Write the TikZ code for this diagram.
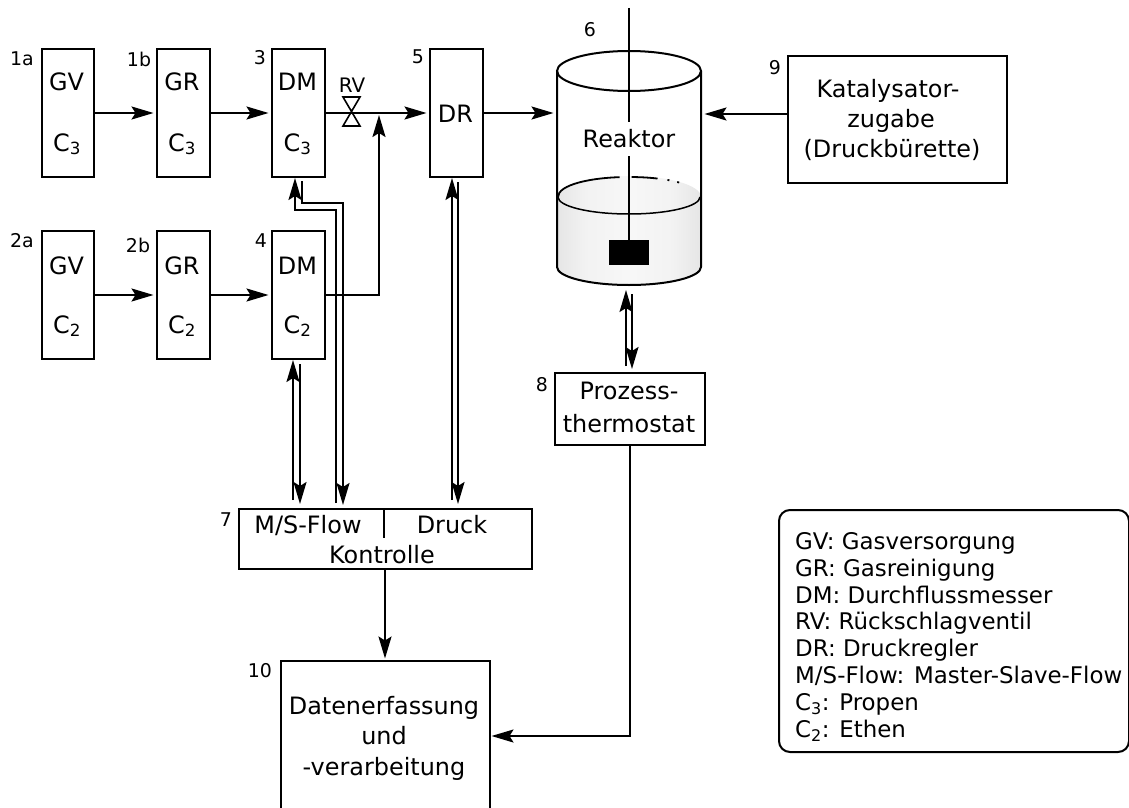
\documentclass[tikz,border=0pt]{standalone}
\usepackage{fontspec}
\setmainfont{DejaVu Sans}
\usetikzlibrary{arrows.meta,calc}
\pgfdeclarehorizontalshading{liquid}{100bp}{color(0bp)=(black!22); color(27bp)=(black!9); color(35bp)=(black!5); color(50bp)=(black!3); color(65bp)=(black!5); color(73bp)=(black!9); color(100bp)=(black!22)}
\tikzset{
 box/.style={draw=black,line width=2bp,inner sep=0pt,anchor=north west},
 lbl/.style={inner sep=0pt,font=\fontsize{24}{28}\selectfont},
 num/.style={inner sep=0pt,font=\fontsize{19}{22}\selectfont},
 line/.style={line width=2bp,draw=black},
 arr/.style={line width=2bp,draw=black,shorten >=2.5bp,-{Stealth[length=22bp,width=13bp,inset=4bp]}},
}
\newcommand{\pbox}[6]{\node[box,minimum width=#4 bp,minimum height=#5 bp] (#1) at (#2,#3) {#6};}
\begin{document}
\begin{tikzpicture}[x=1bp,y=-1bp]
\useasboundingbox (0,0) rectangle (1129,808);
% boxes
\pbox{gva}{41}{48}{52}{128}{}
\pbox{gra}{156}{48}{53}{128}{}
\pbox{dma}{271}{48}{53}{128}{}
\pbox{dr}{429}{48}{53}{128}{}
\pbox{gvb}{41}{230}{52}{128}{}
\pbox{grb}{156}{230}{53}{128}{}
\pbox{dmb}{271}{230}{53}{128}{}
\pbox{kat}{787}{55}{219}{127}{}
\pbox{proz}{554}{372}{150}{72}{}
\pbox{kon}{238}{508}{293}{60}{}
\pbox{dat}{280}{660}{209}{150}{}
\node[draw=black,line width=2bp,rounded corners=11bp,minimum width=350bp,minimum height=242bp,anchor=north west,inner sep=0pt] (leg) at (778,509) {};
% labels in boxes
\foreach \n/\x/\y/\t in {a/66.5/91/GV,b/182/91/GR,c/297.5/91/DM,d/66.5/274/GV,e/182/274/GR,f/297.5/274/DM,g/455.5/122/DR}
  \node[lbl,anchor=base] (t\n) at (\x,\y) {\t};
\foreach \n/\x/\y/\t in {a/67/151/3,b/182/151/3,c/297.5/151/3,d/67/333/2,e/182/333/2,f/297.5/333/2}
  \node[lbl,anchor=base] (s\n) at (\x,\y) {C\textsubscript{\t}};
\node[lbl,anchor=base] (tk1) at (888,98) {Katalysator-};
\node[lbl,anchor=base] (tk2) at (891,127) {zugabe};
\node[lbl,anchor=base] (tk3) at (892,157) {(Druckbürette)};
\node[lbl,anchor=base] (tp1) at (629,399) {Prozess-};
\node[lbl,anchor=base] (tp2) at (629,432) {thermostat};
\node[lbl,anchor=base] (tms) at (308,533) {M/S-Flow};
\node[lbl,anchor=base] (tdr) at (452,533) {Druck};
\node[lbl,anchor=base] (tko) at (382,563) {Kontrolle};
\node[lbl,anchor=base] (td1) at (384,714) {Datenerfassung};
\node[lbl,anchor=base] (td2) at (384,744) {und};
\node[lbl,anchor=base] (td3) at (384,775) {-verarbeitung};
\coordinate (k0) at (385,568);
\coordinate (k1) at (384,508);
\coordinate (k2) at (384,538);
\draw[line] (k1) -- (k2);
% numbers
\foreach \n/\x/\y/\t in {a/22/59/1a,b/139/59/1b,c/260/58/3,d/418/57/5,e/22/241/2a,f/138/245/2b,g/261/241/4,h/590/30/6,i/775/68/9,j/542/385/8,k/226/520/7,l/260/671/10}
  \node[num] (n\n) at (\x,\y) {\t};
\node[inner sep=0pt,font=\fontsize{20}{23}\selectfont] (trv) at (352,85) {RV};
% legend
\node[inner sep=0pt,anchor=north west,align=left,font=\fontsize{23}{27}\selectfont] (tleg) at (795,532) {GV: Gasversorgung\\GR: Gasreinigung\\DM: Durchflussmesser\\RV: Rückschlagventil\\DR: Druckregler\\M/S-Flow: Master-Slave-Flow\\C\textsubscript{3}: Propen\\C\textsubscript{2}: Ethen};
% reactor
\shade[shading=liquid] (557,197) .. controls (557,185) and (590,176) .. (629,176) .. controls (668,176) and (701,185) .. (701,197) -- (701,267) arc[start angle=0,end angle=180,x radius=72,y radius=18] -- cycle;
\draw[line] (557,71) -- (557,267) arc[start angle=180,end angle=0,x radius=72,y radius=18] -- (701,71);
\draw[line] (629,71) ellipse[x radius=72,y radius=20];
\draw[line width=1.5bp] (558,197) arc[start angle=180,end angle=0,x radius=71,y radius=17];
\draw[line width=1.8bp,draw=black,dash pattern=on 68bp off 12bp on 26bp off 10bp on 2bp off 8bp on 2bp off 40bp] (558,197) .. controls (558,185) and (590,177) .. (629,177) .. controls (668,177) and (700,185) .. (700,197);
\coordinate (st0) at (629,8);
\coordinate (st1) at (629,122);
\coordinate (st2) at (629,156);
\node[lbl] (trk) at (629,139) {Reaktor};
\node[fill=black,inner sep=0pt,minimum width=40bp,minimum height=25bp,anchor=north] (pad) at (629,240) {};
\draw[line] (st0) -- (st1);
\draw[line] (st2) -- (pad.north);
\coordinate (reW) at (556,112);
\coordinate (reE) at (702,114);
% valve
\coordinate (v0) at (351,112);
\draw[line width=1.6bp,fill=white] (343,97) -- (360,97) -- (343,126) -- (360,126) -- cycle;
% connectors
\draw[arr] (gva.east) -- (gra.west);
\draw[arr] (gra.east) -- (dma.west);
\draw[arr] (dma.east) -- (dr.west);
\draw[arr] (dr.east) -- (reW |- dr.east);
\draw[arr] (kat.west |- reE) -- (reE);
\draw[arr] (gvb.east) -- (grb.west);
\draw[arr] (grb.east) -- (dmb.west);
\coordinate (merge) at (379,115);
\draw[arr,shorten >=0pt] (dmb.east) -| (merge);
% DM C3 double
\coordinate (a1) at (336,503); \coordinate (a2) at (295,178);
\draw[arr,shorten >=0pt] (a1) -- (336,210) -- (295,210) -- (a2);
\coordinate (b1) at (302,181); \coordinate (b2) at (343,505);
\draw[arr,shorten >=0pt] (b1) -- (302,203) -- (343,203) -- (b2);
% DM C2 double
\coordinate (c1) at (293,500); \coordinate (c2) at (293,360);
\draw[arr,shorten >=0pt] (c1) -- (c2);
\coordinate (d1) at (300,364); \coordinate (d2) at (300,504);
\draw[arr,shorten >=0pt] (d1) -- (d2);
% DR double
\coordinate (e1) at (452,500); \coordinate (e2) at (452,178);
\draw[arr,shorten >=0pt] (e1) -- (e2);
\coordinate (f1) at (458,182); \coordinate (f2) at (458,504);
\draw[arr,shorten >=0pt] (f1) -- (f2);
% thermostat double
\coordinate (g1) at (626,366); \coordinate (g2) at (626,290);
\draw[arr,shorten >=0pt] (g1) -- (g2);
\coordinate (h1) at (632,294); \coordinate (h2) at (632,369);
\draw[arr,shorten >=0pt] (h1) -- (h2);
\draw[arr,shorten >=1.5bp] (k0) -- (dat.north -| k0);
\draw[arr,shorten >=0.5bp] (proz.south) |- (dat.east |- 0,736);
\end{tikzpicture}
\end{document}
